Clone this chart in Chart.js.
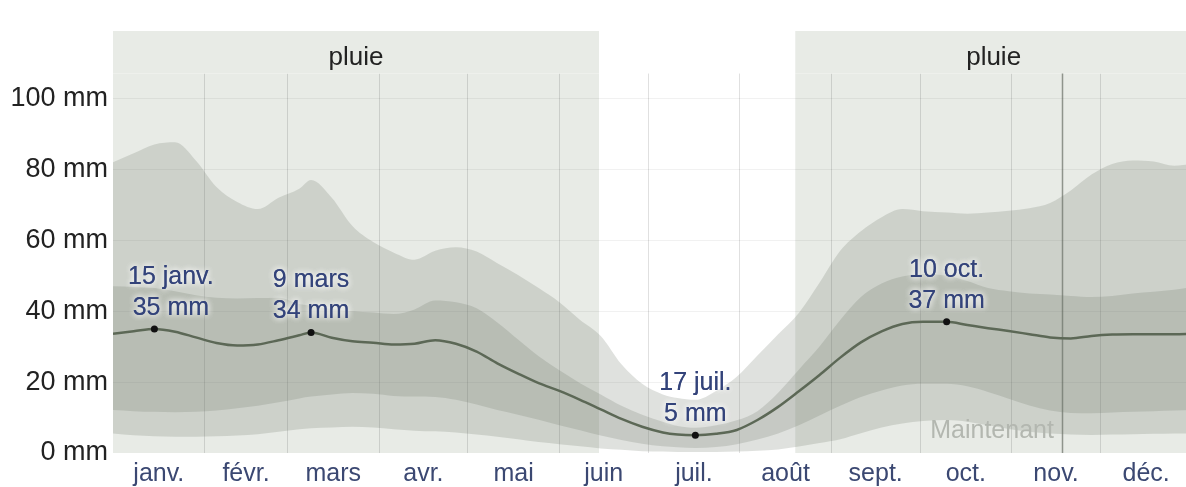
<!DOCTYPE html>
<html lang="fr">
<head>
<meta charset="utf-8">
<title>Précipitations de pluie mensuelles moyennes</title>
<script src="https://cdn.jsdelivr.net/npm/chart.js@4.4.1/dist/chart.umd.min.js"></script>
<style>
  html, body { margin: 0; padding: 0; background: #fff; overflow: hidden; }
  #wrap { width: 1196px; height: 487px; }
</style>
</head>
<body>
<div id="wrap"><canvas id="rain" width="1196" height="487"></canvas></div>
<script>
// day of year (0 = 1 janv.) for every sample below
const days = [0, 7, 14, 21, 28, 35, 42, 49, 56, 63, 67, 74, 81, 88, 95, 102, 109, 116, 123, 130,
  137, 144, 151, 158, 165, 172, 179, 186, 191, 197, 204, 211, 218, 225, 232, 239, 246, 253, 260,
  267, 274, 282, 289, 296, 303, 310, 317, 324, 331, 338, 345, 352, 359, 365];

// 31-day rainfall, mm
const p90 = [82, 84.5, 87, 87.6, 82.5, 75, 70.8, 68.8, 72, 74.5, 77, 72, 64, 59.5, 56.5, 54.5, 57, 58, 56.8, 53.5,
  50.2, 46.5, 42.5, 37.5, 33, 25, 19.5, 16.5, 15.5, 15, 17.5, 21.5, 27.5, 33.5, 39.5, 48, 57, 62.5, 66.5,
  68.8, 68.2, 67.8, 67.5, 67.8, 68.3, 69, 70.5, 74, 78.5, 81.5, 82.5, 82.2, 81, 81.5];
const p75 = [47, 46.8, 46.5, 45.6, 44.5, 43.8, 43.6, 43.7, 43.8, 42, 41.5, 40.6, 40, 39.6, 39.2, 40.5, 43, 42.5, 40.8, 36.8,
  32, 27.3, 23.3, 19.7, 16.5, 13.3, 10.8, 8.8, 7.6, 7.1, 7.8, 9.2, 11.8, 17, 23.5, 30, 37.5, 44, 47.8,
  49.8, 50.5, 50, 48.5, 46.5, 45.6, 45, 44.7, 44.3, 44, 44.3, 45, 45.5, 46, 46.8];
const median = [33.6, 34.3, 35, 34.2, 32.6, 31, 30.3, 30.6, 31.8, 33.2, 34, 32.5, 31.5, 31.1, 30.6, 30.8, 31.8, 30.8, 28.6, 25.3,
  22.4, 19.7, 17.5, 15, 12.3, 9.6, 7.4, 5.8, 5.2, 5, 5.4, 6.5, 9.3, 13, 17.4, 22, 26.9, 31.2, 34.3,
  36.4, 37, 37, 36.1, 35.2, 34.4, 33.5, 32.6, 32.3, 33, 33.4, 33.5, 33.5, 33.5, 33.6];
const p25 = [12.1, 11.8, 11.6, 11.5, 11.6, 12, 12.6, 13.3, 14.3, 15.4, 15.9, 16.5, 16.9, 16.7, 16.1, 15.9, 15.8, 15, 13.7, 12.1,
  10.8, 9.4, 7.8, 6.4, 4.9, 3.7, 2.6, 1.9, 1.6, 1.4, 1.7, 2.5, 3.8, 5.5, 7.8, 10.6, 13.3, 15.8, 17.6,
  19, 19.5, 19.5, 18.8, 17.2, 15.3, 13.4, 12, 11.3, 11.2, 11.4, 11.6, 11.8, 12, 12.1];
const p10 = [5.5, 5, 4.7, 4.6, 4.6, 4.7, 4.9, 5.3, 6, 6.7, 7, 7.2, 7.4, 7.2, 6.7, 6.3, 6.1, 5.8, 5.2, 4.6,
  3.9, 3.1, 2.5, 1.9, 1.3, 0.9, 0.5, 0.4, 0.3, 0.3, 0.3, 0.4, 0.6, 1, 1.8, 2.8, 3.9, 5.6, 7.2,
  8.3, 9, 9.3, 8.8, 7.8, 6.8, 6, 5.5, 5.2, 5.1, 5.2, 5.3, 5.4, 5.5, 5.5];

const monthNames = ['janv.', 'févr.', 'mars', 'avr.', 'mai', 'juin', 'juil.', 'août', 'sept.', 'oct.', 'nov.', 'déc.'];
const monthStarts = [0, 31, 59, 90, 120, 151, 181, 212, 243, 273, 304, 334, 365];
const yTicks = [0, 20, 40, 60, 80, 100];

const annotDays = [14, 67, 197, 282];
const annotValues = [35, 34, 5, 37];
const annotDates = ['15 janv.', '9 mars', '17 juil.', '10 oct.'];

const rainSeasons = [[0, 164.4], [230.8, 365]];
const seasonLabel = 'pluie';
const nowDay = 321;
const nowLabel = 'Maintenant';

const FONT = '"Liberation Sans", Arial, sans-serif';
const RAIN_BG = '#e8ebe6';
const BAND = 'rgba(110,120,105,0.22)';
const HEADER_FLOOR = 107; // mm value where the month grid lines start

const monthMids = monthNames.map((m, i) => (monthStarts[i] + monthStarts[i + 1]) / 2);
const pts = arr => days.map((d, i) => ({ x: d, y: arr[i] }));

const seasons = {
    id: 'seasons',
    beforeDraw(chart) {
        const { ctx, chartArea: a, scales: { x } } = chart;
        ctx.save();
        ctx.fillStyle = '#fff';
        ctx.fillRect(0, 0, chart.width, chart.height);
        ctx.fillStyle = RAIN_BG;
        rainSeasons.forEach(([s, e]) => {
            const x0 = x.getPixelForValue(s), x1 = x.getPixelForValue(e);
            ctx.fillRect(x0, a.top, x1 - x0, a.bottom - a.top);
        });
        ctx.restore();
    },
    beforeDatasetsDraw(chart) {
        const { ctx, chartArea: a, scales: { x, y } } = chart;
        const floor = y.getPixelForValue(HEADER_FLOOR);
        ctx.save();
        // header strip has no grid lines
        ctx.fillStyle = '#fff';
        ctx.fillRect(a.left, a.top, a.right - a.left, floor - a.top);
        ctx.font = '26px ' + FONT;
        ctx.textAlign = 'center';
        ctx.textBaseline = 'alphabetic';
        rainSeasons.forEach(([s, e]) => {
            const x0 = x.getPixelForValue(s), x1 = x.getPixelForValue(e);
            ctx.fillStyle = RAIN_BG;
            ctx.fillRect(x0, a.top, x1 - x0, floor - a.top);
            ctx.fillStyle = '#222';
            ctx.fillText(seasonLabel, (x0 + x1) / 2, a.top + 34);
        });
        // today marker
        const nx = Math.round(x.getPixelForValue(nowDay)) + 0.5;
        ctx.strokeStyle = 'rgba(70,76,66,0.55)';
        ctx.lineWidth = 1.5;
        ctx.beginPath();
        ctx.moveTo(nx, floor);
        ctx.lineTo(nx, a.bottom);
        ctx.stroke();
        ctx.restore();
    },
    afterDatasetsDraw(chart) {
        const { ctx, chartArea: a, scales: { x, y } } = chart;
        ctx.save();
        ctx.font = '25px ' + FONT;
        ctx.textBaseline = 'alphabetic';
        ctx.textAlign = 'right';
        ctx.fillStyle = '#b3b7b0';
        ctx.fillText(nowLabel, x.getPixelForValue(nowDay) - 8, a.bottom - 15);

        ctx.textAlign = 'center';
        ctx.textBaseline = 'middle';
        annotDays.forEach((d, i) => {
            const px = x.getPixelForValue(d), py = y.getPixelForValue(annotValues[i]);
            const lines = [annotDates[i], annotValues[i] + ' mm'];
            const w = Math.max(...lines.map(t => ctx.measureText(t).width));
            const cx = Math.max(px, a.left + 15 + w / 2);
            lines.forEach((t, k) => {
                const ty = py - 52 + k * 31;
                ctx.shadowColor = 'rgba(255,255,255,1)';
                ctx.shadowBlur = 6;
                ctx.fillStyle = '#33437a';
                ctx.fillText(t, cx, ty);
                ctx.fillText(t, cx, ty);
            });
        });
        ctx.restore();
    }
};

const band = (label, data, fill, order) => ({
    label, data: pts(data), fill, order,
    backgroundColor: BAND, borderColor: 'transparent', borderWidth: 0,
    pointRadius: 0, tension: 0.4, cubicInterpolationMode: 'monotone'
});

new Chart(document.getElementById('rain'), {
    type: 'line',
    data: {
        datasets: [
            {
                label: 'extrêmes', data: annotDays.map((d, i) => ({ x: d, y: annotValues[i] })),
                showLine: false, pointRadius: 3.5, pointBackgroundColor: '#111', pointBorderWidth: 0, order: 0
            },
            {
                label: 'médiane', data: pts(median), fill: false, order: 1,
                borderColor: '#5c6856', borderWidth: 2.5, pointRadius: 0, cubicInterpolationMode: 'monotone'
            },
            band('75e', p75, 3, 2),
            band('25e', p25, false, 3),
            band('90e', p90, 5, 4),
            band('10e', p10, false, 5)
        ]
    },
    options: {
        responsive: false,
        animation: false,
        events: [],
        layout: { padding: { top: 31, left: 0, right: 0, bottom: 0 } },
        plugins: { legend: { display: false }, tooltip: { enabled: false } },
        scales: {
            x: {
                type: 'linear', min: 0, max: 365,
                border: { display: false },
                afterBuildTicks: s => {
                    s.ticks = monthStarts.slice(1, 12).concat(monthMids)
                        .sort((p, q) => p - q).map(v => ({ value: v }));
                },
                afterFit: s => { s.height = 34; },
                grid: {
                    drawTicks: false, lineWidth: 1,
                    color: c => (c.tick && monthStarts.includes(c.tick.value)) ? 'rgba(0,0,0,0.12)' : 'transparent'
                },
                ticks: {
                    autoSkip: false, maxRotation: 0, padding: 6, color: '#3b4872',
                    font: { family: FONT, size: 25, lineHeight: 1.2 },
                    callback: v => { const i = monthMids.indexOf(v); return i >= 0 ? monthNames[i] : ''; }
                }
            },
            y: {
                min: 0, max: 119,
                border: { display: false },
                afterBuildTicks: s => { s.ticks = yTicks.map(v => ({ value: v })); },
                afterFit: s => { s.width = 113; },
                grid: {
                    drawTicks: false,
                    color: c => (c.tick && c.tick.value > 0) ? 'rgba(0,0,0,0.055)' : 'transparent'
                },
                ticks: {
                    padding: 5, color: '#222',
                    font: { family: FONT, size: 27 },
                    callback: v => v + ' mm'
                }
            }
        }
    },
    plugins: [seasons]
});
</script>
</body>
</html>
